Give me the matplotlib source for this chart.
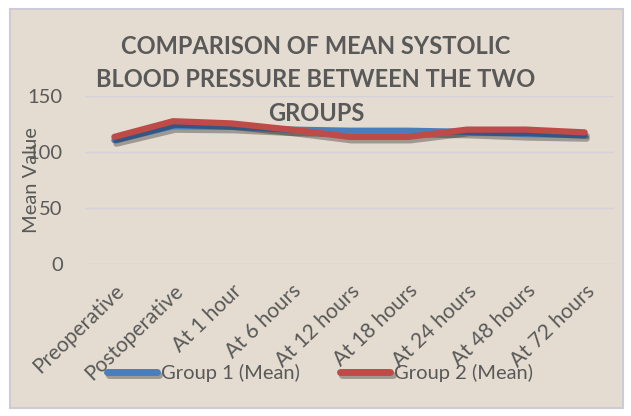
import matplotlib.pyplot as plt
import matplotlib.patheffects as pe

categories = ["Preoperative", "Postoperative", "At 1 hour", "At 6 hours", "At 12 hours",
              "At 18 hours", "At 24 hours", "At 48 hours", "At 72 hours"]
group1 = [110.5, 123, 122.5, 120, 119, 119, 118, 116, 115]
group2 = [113.5, 127.5, 125.5, 120, 113.5, 113.5, 120, 120, 117.5]
y_ticks = [0, 50, 100, 150]

bg = "#e4dcd0"
text_col = "#595959"
plt.rcParams['font.family'] = ['Lato', 'DejaVu Sans']

fig = plt.figure(figsize=(6.31, 4.16), dpi=100, facecolor="white")
# chart area with its light frame
fig.patches.append(plt.Rectangle((10 / 631, 1 - 408 / 416), 613 / 631, 399 / 416,
                                 transform=fig.transFigure, facecolor=bg,
                                 edgecolor="#cfcbd6", linewidth=1.5, zorder=-10))
ax = fig.add_axes([85 / 631, 1 - 264 / 416, 529 / 631, 168 / 416])
ax.set_facecolor("none")

x = range(len(categories))
shadow = [pe.SimpleLineShadow(offset=(1.5, -2.5), shadow_color="k", alpha=0.3), pe.Normal()]
ax.plot(x, group1, color="#4a7ebb", linewidth=4.5, solid_capstyle="round",
        label="Group 1 (Mean)", path_effects=shadow)
ax.plot(x, group2, color="#be4b48", linewidth=4.5, solid_capstyle="round",
        label="Group 2 (Mean)", path_effects=shadow)

ax.set_xlim(-0.5, len(categories) - 0.5)
ax.set_ylim(0, 150)
ax.set_yticks(y_ticks)
ax.tick_params(axis='y', length=0, labelsize=14.5, colors=text_col, pad=16)
ax.set_xticks(list(x))
ax.set_xticklabels(categories, rotation=44, ha="right", rotation_mode="anchor",
                   fontsize=15, color=text_col)
ax.tick_params(axis='x', length=0, pad=12)
ax.grid(axis='y', color="#d4d0dc", linewidth=1)
ax.set_axisbelow(True)
for s in ax.spines.values():
    s.set_visible(False)

ax.set_ylabel("Mean Value", fontsize=14.5, color=text_col, labelpad=-9)

fig.text(316 / 631, 1 - 35 / 416,
         "COMPARISON OF MEAN SYSTOLIC\nBLOOD PRESSURE BETWEEN THE TWO\nGROUPS",
         ha="center", va="top", fontsize=17, fontweight="bold", color=text_col,
         linespacing=1.55)

leg = fig.legend(loc="center", bbox_to_anchor=(320 / 631, 1 - 373 / 416), ncol=2,
                 frameon=False, fontsize=14.5, handlelength=2.5, handletextpad=0.2,
                 columnspacing=2.0)
for t in leg.get_texts():
    t.set_color(text_col)
for h in leg.get_lines():
    h.set_linewidth(5)

fig.savefig("out.png", dpi=100, facecolor="white")
